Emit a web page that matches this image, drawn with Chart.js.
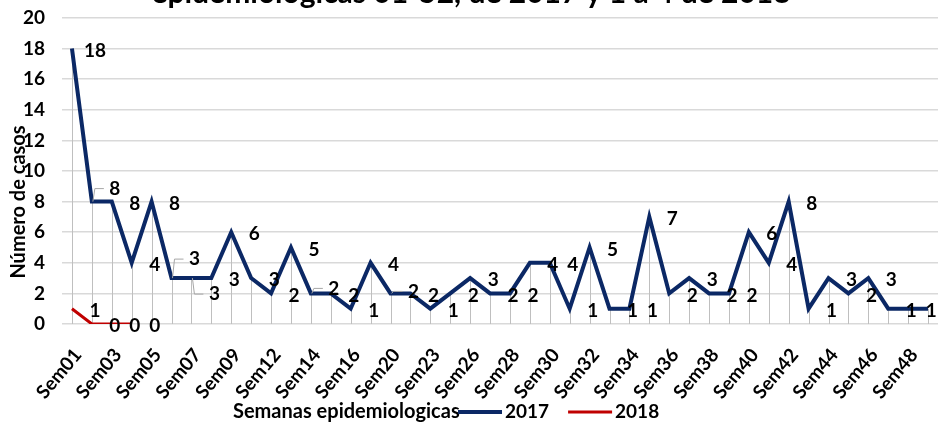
<!DOCTYPE html>
<html>
<head>
<meta charset="utf-8">
<script src="https://cdn.jsdelivr.net/npm/chart.js@4.4.1/dist/chart.umd.min.js"></script>
<style>
  html, body { margin: 0; padding: 0; background: #fff; }
  #wrap { width: 938px; height: 425px; }
</style>
</head>
<body>
<div id="wrap"><canvas id="casosChart" width="938" height="425"></canvas></div>
<script>
const weeks = [
  'Sem01', 'Sem02', 'Sem03', 'Sem04', 'Sem05', 'Sem06', 'Sem07', 'Sem08', 'Sem09', 'Sem10',
  'Sem12', 'Sem13', 'Sem14', 'Sem15', 'Sem16', 'Sem17', 'Sem20', 'Sem21', 'Sem23', 'Sem24',
  'Sem26', 'Sem27', 'Sem28', 'Sem29', 'Sem30', 'Sem31', 'Sem32', 'Sem33', 'Sem34', 'Sem35',
  'Sem36', 'Sem37', 'Sem38', 'Sem39', 'Sem40', 'Sem41', 'Sem42', 'Sem43', 'Sem44', 'Sem45',
  'Sem46', 'Sem47', 'Sem48', 'Sem49'
];
const cases2017 = [
  18, 8, 8, 4, 8, 3, 3, 3, 6, 3,
  2, 5, 2, 2, 1, 4, 2, 2, 1, 2,
  3, 2, 2, 4, 4, 1, 5, 1, 1, 7,
  2, 3, 2, 2, 6, 4, 8, 1, 3, 2,
  3, 1, 1, 1
];
const cases2018 = [1, 0, 0, 0];
const yTicks = [0, 2, 4, 6, 8, 10, 12, 14, 16, 18, 20];

const titleText = 'epidemiologicas 01-52, de 2017 y 1 a 4 de 2018';
const yTitle = 'Número de casos';
const xTitle = 'Semanas epidemiologicas';

const FONT = 'Lato, "Open Sans", sans-serif';

// some labels were dragged in the original, with a leader line
const labelNudge = { 0: { 1: -15, 5: -21, 6: 14, 12: -7, 16: -4 } };

const overlay = {
  id: 'overlay',
  beforeDatasetsDraw(chart) {
    // drop lines
    const ctx = chart.ctx;
    const base = chart.scales.y.getPixelForValue(0);
    const metas = chart.data.datasets.map((d, i) => chart.getDatasetMeta(i));
    ctx.save();
    ctx.strokeStyle = '#bfbfbf';
    ctx.lineWidth = 1;
    chart.data.labels.forEach((l, i) => {
      let top = base;
      metas.forEach(m => {
        if (m.data[i]) top = Math.min(top, m.data[i].y);
      });
      const x = Math.round(metas[0].data[i].x) + 0.5;
      ctx.beginPath();
      ctx.moveTo(x, top);
      ctx.lineTo(x, base);
      ctx.stroke();
    });
    ctx.restore();
  },
  afterDatasetsDraw(chart) {
    // data labels, right of each point
    const ctx = chart.ctx;
    ctx.save();
    ctx.font = 'bold 19px ' + FONT;
    ctx.fillStyle = '#000';
    ctx.textAlign = 'center';
    ctx.textBaseline = 'middle';
    chart.data.datasets.forEach((ds, di) => {
      const meta = chart.getDatasetMeta(di);
      const nudge = labelNudge[di] || {};
      meta.data.forEach((pt, i) => {
        const lx = pt.x + 23;
        let ly = pt.y + 2;
        if (nudge[i] !== undefined) {
          ly += nudge[i];
          ctx.strokeStyle = '#a6a6a6';
          ctx.lineWidth = 1;
          ctx.beginPath();
          ctx.moveTo(pt.x + 1, pt.y);
          ctx.lineTo(pt.x + 3, ly);
          ctx.lineTo(lx - 11, ly);
          ctx.stroke();
        }
        ctx.fillText(String(ds.data[i]), lx, ly);
      });
    });
    ctx.restore();
  },
  afterDraw(chart) {
    const ctx = chart.ctx;
    ctx.save();
    ctx.fillStyle = '#000';

    // title, cut off by the top edge like in the original
    ctx.font = 'bold 30px ' + FONT;
    ctx.textAlign = 'center';
    ctx.textBaseline = 'alphabetic';
    ctx.fillText(titleText, 471, 3);

    // y axis title
    ctx.font = 'bold 20px ' + FONT;
    ctx.save();
    ctx.translate(19, 202);
    ctx.rotate(-Math.PI / 2);
    ctx.textBaseline = 'middle';
    ctx.fillText(yTitle, 0, 0);
    ctx.restore();

    // x axis title + legend on one row
    ctx.textAlign = 'left';
    ctx.textBaseline = 'middle';
    ctx.fillText(xTitle, 233, 412);

    ctx.font = 'bold 19px ' + FONT;
    let x = 458;
    chart.data.datasets.forEach(ds => {
      ctx.strokeStyle = ds.borderColor;
      ctx.lineWidth = ds.borderWidth;
      ctx.beginPath();
      ctx.moveTo(x, 412);
      ctx.lineTo(x + 44, 412);
      ctx.stroke();
      ctx.fillText(ds.label, x + 47, 412);
      x += 47 + ctx.measureText(ds.label).width + 19;
    });
    ctx.restore();
  }
};

new Chart(document.getElementById('casosChart').getContext('2d'), {
  type: 'line',
  data: {
    labels: weeks,
    datasets: [
      {
        label: '2017',
        data: cases2017,
        borderColor: '#0b2865',
        borderWidth: 4,
        pointRadius: 0,
        tension: 0
      },
      {
        label: '2018',
        data: cases2018,
        borderColor: '#c00000',
        borderWidth: 3,
        pointRadius: 0,
        tension: 0
      }
    ]
  },
  options: {
    responsive: false,
    animation: false,
    devicePixelRatio: 1,
    layout: { padding: { top: 18, left: 0, right: 0, bottom: 0 } },
    plugins: {
      legend: { display: false },
      title: { display: false },
      tooltip: { enabled: false }
    },
    scales: {
      x: {
        offset: true,
        grid: { display: false },
        border: { display: false },
        ticks: {
          autoSkip: false,
          maxRotation: 50,
          minRotation: 50,
          padding: 12,
          labelOffset: 6,
          color: '#000',
          font: { family: FONT, size: 19, weight: 'bold' },
          callback: function (v, i) { return i % 2 === 0 ? this.getLabelForValue(v) : ''; }
        },
        afterFit: s => {
          s.height = 101;
          s.paddingLeft = 0;
          s.paddingRight = 0;
        }
      },
      y: {
        min: 0,
        max: 20,
        afterBuildTicks: s => { s.ticks = yTicks.map(v => ({ value: v })); },
        grid: { color: '#d9d9d9', lineWidth: 1.5, drawTicks: false },
        border: { display: false },
        ticks: {
          padding: 17,
          color: '#000',
          font: { family: FONT, size: 19, weight: 'bold' }
        },
        afterFit: s => {
          s.width = 62;
          s.paddingTop = 0;
          s.paddingBottom = 0;
        }
      }
    }
  },
  plugins: [overlay]
});
</script>
</body>
</html>
